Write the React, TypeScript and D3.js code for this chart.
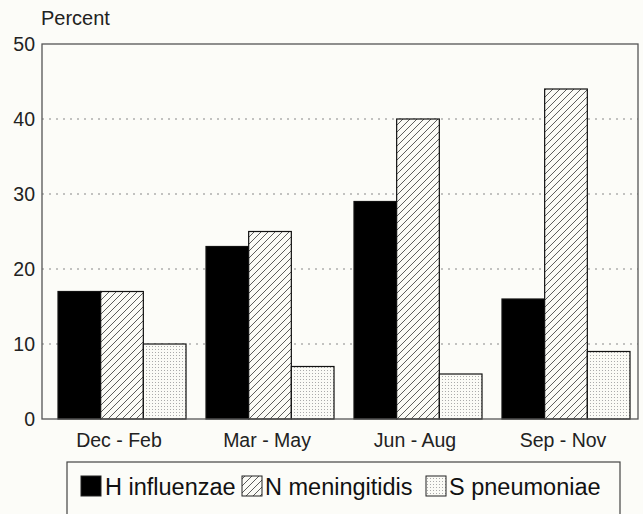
import React from "react";
import * as d3 from "d3";

const categories = ["Dec - Feb", "Mar - May", "Jun - Aug", "Sep - Nov"];
const seriesNames = ["H influenzae", "N meningitidis", "S pneumoniae"];
const hInfluenzae = [17, 23, 29, 16];
const nMeningitidis = [17, 25, 40, 44];
const sPneumoniae = [10, 7, 6, 9];
const yTicks = [0, 10, 20, 30, 40, 50];

const W = 643;
const H = 514;
const plot = { left: 42, right: 638, top: 44, bottom: 419 };
const fills = ["#000", "url(#hatch)", "url(#dots)"];
const FONT = "'Liberation Sans', Arial, Helvetica, sans-serif";

export default function App() {
  const values = [hInfluenzae, nMeningitidis, sPneumoniae];
  const y = d3.scaleLinear().domain([0, 50]).range([plot.bottom, plot.top]);
  const x0 = d3
    .scaleBand<string>()
    .domain(categories)
    .range([plot.left + 16, plot.right - 8])
    .paddingInner(0.135)
    .paddingOuter(0);
  const x1 = d3
    .scaleBand<number>()
    .domain([0, 1, 2])
    .range([0, x0.bandwidth()])
    .padding(0);

  const legendItems = [
    { sq: 81, tx: 105 },
    { sq: 242, tx: 265 },
    { sq: 426, tx: 449 },
  ];

  return (
    <svg
      width={W}
      height={H}
      style={{ position: "absolute", left: 0, top: 0, display: "block" }}
      fontFamily={FONT}
    >
      <defs>
        <pattern id="hatch" patternUnits="userSpaceOnUse" width="7" height="7">
          <rect width="7" height="7" fill="#fbfbf6" />
          <path d="M-1,1 l2,-2 M0,7 l7,-7 M6,8 l2,-2" stroke="#333" strokeWidth="0.8" />
        </pattern>
        <pattern id="dots" patternUnits="userSpaceOnUse" width="3" height="3">
          <rect width="3" height="3" fill="#fbfbf6" />
          <rect x="1" y="1" width="1" height="1" fill="#aaa" />
        </pattern>
      </defs>
      <rect width={W} height={H} fill="#fcfcf8" />

      {/* gridlines */}
      {yTicks
        .filter((t) => t > 0 && t < 50)
        .map((t) => (
          <line
            key={t}
            x1={plot.left}
            x2={plot.right}
            y1={y(t)}
            y2={y(t)}
            stroke="#888"
            strokeWidth={1}
            strokeDasharray="2,5"
          />
        ))}

      {/* bars */}
      {categories.map((c, ci) => (
        <g key={c} transform={`translate(${x0(c)},0)`}>
          {values.map((vals, si) => (
            <rect
              key={si}
              x={x1(si)}
              y={y(vals[ci])}
              width={x1.bandwidth()}
              height={y(0) - y(vals[ci])}
              fill={fills[si]}
              stroke="#111"
              strokeWidth={1.2}
            />
          ))}
        </g>
      ))}

      {/* frame */}
      <rect
        x={plot.left}
        y={plot.top}
        width={plot.right - plot.left}
        height={plot.bottom - plot.top}
        fill="none"
        stroke="#555"
        strokeWidth={1.3}
      />

      {/* y tick labels */}
      {yTicks.map((t) => (
        <text
          key={t}
          x={35}
          y={y(t)}
          dy="0.36em"
          textAnchor="end"
          fontSize={19.5}
          fill="#222"
        >
          {t}
        </text>
      ))}
      <text x={41} y={25} fontSize={20} fill="#222">
        Percent
      </text>

      {/* x labels */}
      {categories.map((c) => (
        <text
          key={c}
          x={(x0(c) as number) + x0.bandwidth() / 2 - 3}
          y={447}
          textAnchor="middle"
          fontSize={19.5}
          fill="#222"
        >
          {c}
        </text>
      ))}

      {/* legend */}
      <rect x={67} y={462} width={553} height={80} fill="none" stroke="#444" strokeWidth={1.2} />
      {seriesNames.map((n, i) => (
        <g key={n}>
          <rect
            x={legendItems[i].sq}
            y={476}
            width={20}
            height={20}
            fill={fills[i]}
            stroke="#222"
            strokeWidth={1}
          />
          <text x={legendItems[i].tx} y={495} fontSize={23.5} fill="#111">
            {n}
          </text>
        </g>
      ))}
    </svg>
  );
}
